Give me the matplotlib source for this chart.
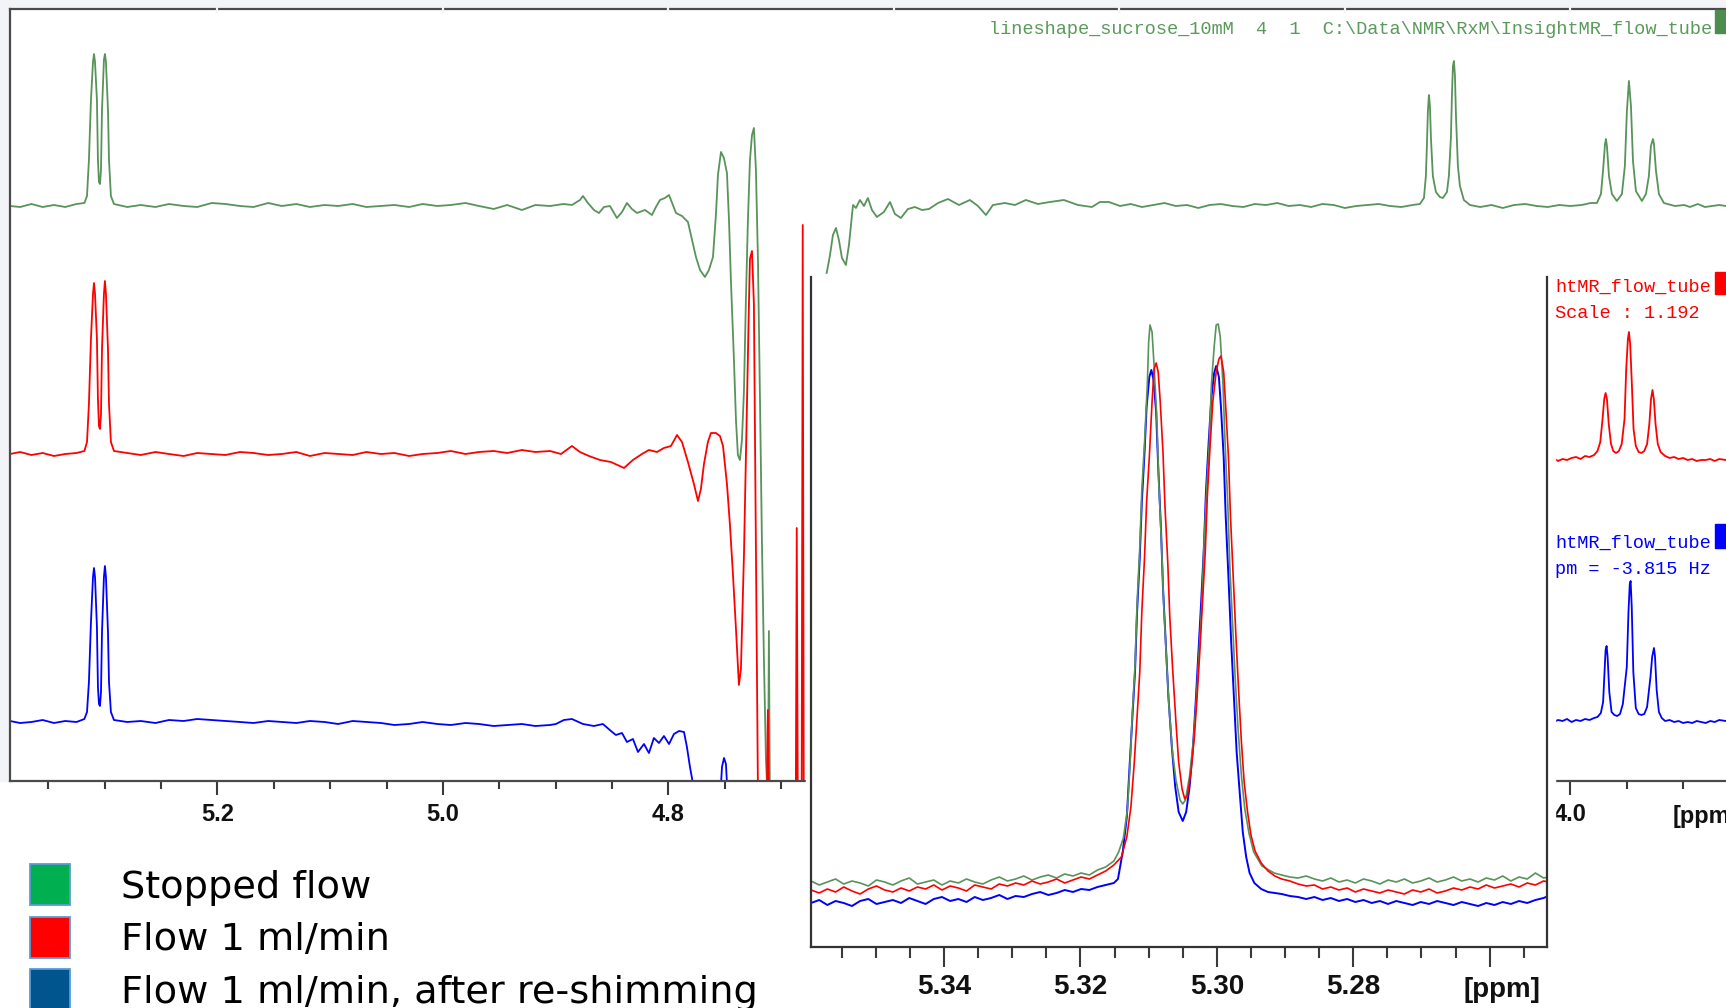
import numpy as np
import matplotlib.pyplot as plt
from matplotlib.patches import Rectangle
from matplotlib.ticker import MultipleLocator

W, H = 1726, 1008

# ---- main spectrum: (ppm, intensity above own baseline) ----
green_main = [
    (5.384, 0), (5.375, -1), (5.365, 2), (5.355, -1), (5.345, 1), (5.335, -1), (5.325, 2), (5.318, 3),
    (5.3157, 10), (5.3140, 46), (5.3122, 106), (5.3104, 144), (5.3095, 152), (5.3086, 144), (5.3069, 106),
    (5.3060, 46), (5.3051, 24), (5.3042, 22), (5.3033, 36), (5.3024, 96), (5.3007, 146), (5.2998, 152),
    (5.2989, 144), (5.2971, 96), (5.2962, 46), (5.2945, 10), (5.2918, 2),
    (5.280, -1), (5.268, 1), (5.255, -1), (5.243, 2), (5.230, 0), (5.218, -1), (5.205, 3), (5.193, 2),
    (5.180, 0), (5.168, -1), (5.155, 3), (5.143, 0), (5.130, 2), (5.118, -1), (5.105, 1), (5.093, 0),
    (5.080, 2), (5.068, -1), (5.055, 0), (5.043, 1), (5.030, -1), (5.018, 2), (5.005, 0), (4.993, 1),
    (4.980, 3), (4.968, 0), (4.955, -3), (4.943, 1), (4.930, -4), (4.918, 1), (4.905, 0), (4.893, 2),
    (4.8856, 1), (4.8785, 6), (4.8758, 10), (4.8714, 3), (4.8661, -4), (4.8616, -7), (4.8572, -1),
    (4.8519, 0), (4.8457, -12), (4.8412, -6), (4.8368, 3), (4.8324, -3), (4.8279, -7), (4.8208, -4),
    (4.8146, -9), (4.8111, -1), (4.8075, 6), (4.8031, 8), (4.7995, 11), (4.7960, 1), (4.7933, -7),
    (4.7880, -10), (4.7827, -16), (4.7791, -34), (4.7756, -51), (4.7720, -64), (4.7676, -71),
    (4.7641, -64), (4.7605, -51), (4.7579, -9), (4.7561, 31), (4.7534, 54), (4.7508, 48), (4.7481, 33),
    (4.7463, -14), (4.7446, -74), (4.7419, -154), (4.7401, -214), (4.7384, -249), (4.7366, -254),
    (4.7348, -234), (4.7330, -184), (4.7313, -94), (4.7295, -14), (4.7277, 46), (4.7259, 71),
    (4.7242, 78), (4.7224, 36), (4.7206, -54), (4.7188, -194), (4.7171, -334), (4.7153, -454),
    (4.7135, -554), (4.7117, -600), (4.7109, -425), (4.7100, -600), (4.6630, -600),
    (4.6603, -71), (4.6567, -49), (4.6541, -29), (4.6514, -22), (4.6488, -34), (4.6461, -52),
    (4.6426, -59), (4.6399, -39), (4.6381, -19), (4.6363, 1), (4.6337, -2), (4.6302, 6), (4.6266, 0),
    (4.6231, 8), (4.6195, -4), (4.6151, -11), (4.6089, -6), (4.6035, 4), (4.5991, -8), (4.5938, -12),
    (4.5876, -3), (4.5814, -1), (4.5751, -4), (4.5689, -3), (4.5609, 3), (4.5521, 7), (4.5423, 1),
    (4.5326, 6), (4.5255, 0), (4.5184, -9), (4.5122, 1), (4.5016, 3), (4.4927, 1), (4.4830, 6),
    (4.4723, 2), (4.4617, 4), (4.4493, 6), (4.4368, 1), (4.4244, -1), (4.4173, 4), (4.4093, 4), (4.3995, 0),
    (4.390, 2), (4.380, -1), (4.370, 1), (4.360, 3), (4.350, 0), (4.340, 1), (4.330, -2), (4.320, 1),
    (4.310, 2), (4.300, 0), (4.290, -1), (4.280, 2), (4.270, 1), (4.260, 3), (4.250, 0), (4.240, 1),
    (4.230, -1), (4.220, 2), (4.210, 1), (4.200, -2), (4.190, 0), (4.180, 1), (4.170, 2), (4.160, 0),
    (4.150, -1), (4.140, 1),
    (4.1335, 2), (4.1299, 8), (4.1282, 30), (4.1273, 60), (4.1264, 95), (4.1255, 111), (4.1246, 100),
    (4.1237, 68), (4.1220, 30), (4.1193, 14), (4.1158, 9), (4.1131, 8), (4.1095, 14), (4.1078, 30),
    (4.1060, 68), (4.1051, 110), (4.1042, 140), (4.1033, 145), (4.1024, 130), (4.1015, 90),
    (4.0998, 40), (4.0980, 20), (4.0945, 6), (4.0891, 1),
    (4.080, -1), (4.070, 1), (4.060, -2), (4.050, 1), (4.040, 2), (4.030, 0), (4.020, -1), (4.010, 1),
    (4.000, 0), (3.990, 1), (3.982, 3),
    (3.9765, 3), (3.9729, 12), (3.9711, 35), (3.9693, 62), (3.9685, 67), (3.9676, 60), (3.9658, 30),
    (3.9632, 12), (3.9588, 5), (3.9543, 12), (3.9517, 40), (3.9499, 95), (3.9481, 125), (3.9463, 100),
    (3.9445, 45), (3.9419, 15), (3.9366, 5), (3.9330, 12), (3.9304, 30), (3.9286, 60), (3.9268, 67),
    (3.9259, 62), (3.9241, 35), (3.9215, 12), (3.9171, 3),
    (3.9073, 0), (3.8990, 1), (3.8940, -1), (3.8870, 2), (3.8807, -1), (3.8740, 0), (3.8680, 1), (3.8621, 0),
]

red_main = [
    (5.384, 0), (5.375, 2), (5.365, -1), (5.355, 1), (5.345, -2), (5.335, 0), (5.325, 1), (5.318, 3),
    (5.3157, 12), (5.3140, 50), (5.3122, 115), (5.3104, 160), (5.3095, 171), (5.3086, 160), (5.3069, 115),
    (5.3060, 55), (5.3051, 28), (5.3042, 25), (5.3033, 40), (5.3024, 105), (5.3007, 160), (5.2998, 173),
    (5.2989, 160), (5.2971, 105), (5.2962, 50), (5.2945, 12), (5.2918, 3),
    (5.280, 1), (5.268, -1), (5.255, 2), (5.243, 0), (5.230, -2), (5.218, 1), (5.205, 0), (5.193, -1),
    (5.180, 2), (5.168, 1), (5.155, -1), (5.143, 0), (5.130, 2), (5.118, -2), (5.105, 1), (5.093, 0),
    (5.080, -1), (5.068, 2), (5.055, 0), (5.043, 1), (5.030, -2), (5.018, 0), (5.005, 1), (4.993, 3),
    (4.980, 0), (4.968, 2), (4.955, 3), (4.943, 1), (4.930, 4), (4.918, 2), (4.905, 3),
    (4.8953, 0), (4.8856, 8), (4.8785, 2), (4.8705, -2), (4.8607, -6), (4.8510, -8), (4.8394, -14),
    (4.8315, -6), (4.8235, 0), (4.8173, 4), (4.8102, 2), (4.8040, 6), (4.7978, 8), (4.7924, 19),
    (4.7880, 12), (4.7827, -8), (4.7774, -30), (4.7738, -47), (4.7712, -35), (4.7685, -10),
    (4.7650, 12), (4.7623, 21), (4.7579, 21), (4.7543, 18), (4.7516, 8), (4.7481, -30), (4.7455, -70),
    (4.7428, -120), (4.7401, -175), (4.7375, -231), (4.7357, -215), (4.7330, -100), (4.7304, 50),
    (4.7286, 150), (4.7277, 195), (4.7259, 203), (4.7242, 150), (4.7224, -100), (4.7206, -340),
    (4.7127, -340), (4.7118, -256), (4.7109, -340), (4.6870, -340), (4.6862, -74), (4.6853, -340),
    (4.6818, -340), (4.6809, 229), (4.6800, -340), (4.6780, -340), (4.6567, -340), (4.6452, 0),
    (4.60, 0), (4.40, 0), (4.20, 0), (4.03, -5),
    (4.0190, -6), (4.0150, -4), (4.0110, -7), (4.0070, -5), (4.0030, -6), (3.9990, -4), (3.9950, -3),
    (3.9910, -5), (3.9870, -2), (3.9830, -3), (3.9790, -1), (3.9760, 3), (3.9735, 12), (3.9715, 35),
    (3.9700, 55), (3.9688, 61), (3.9676, 55), (3.9660, 30), (3.9640, 10), (3.9620, 3), (3.9595, 1),
    (3.9570, 3), (3.9545, 10), (3.9520, 35), (3.9505, 85), (3.9490, 115), (3.9481, 122), (3.9470, 110),
    (3.9455, 70), (3.9440, 25), (3.9420, 8), (3.9395, 2), (3.9370, 1), (3.9345, 3), (3.9320, 10),
    (3.9300, 30), (3.9285, 55), (3.9272, 64), (3.9260, 55), (3.9245, 30), (3.9225, 10), (3.9200, 2),
    (3.9160, -2), (3.9120, -4), (3.9080, -3), (3.9040, -5), (3.9000, -4), (3.8960, -6), (3.8920, -5),
    (3.8880, -7), (3.8840, -6), (3.8800, -6), (3.8760, -5), (3.8720, -7), (3.8680, -5), (3.8621, -6),
]

blue_main = [
    (5.384, 1), (5.375, -1), (5.365, 0), (5.355, 2), (5.345, -1), (5.335, 1), (5.325, 0), (5.318, 3),
    (5.3157, 10), (5.3140, 40), (5.3122, 100), (5.3104, 145), (5.3095, 154), (5.3086, 145), (5.3069, 95),
    (5.3060, 35), (5.3051, 18), (5.3042, 16), (5.3033, 30), (5.3024, 90), (5.3007, 145), (5.2998, 156),
    (5.2989, 145), (5.2971, 90), (5.2962, 40), (5.2945, 10), (5.2918, 2),
    (5.280, 0), (5.268, 1), (5.255, -1), (5.243, 2), (5.230, 1), (5.218, 3), (5.205, 2), (5.193, 1),
    (5.180, 0), (5.168, -1), (5.155, 1), (5.143, 0), (5.130, -1), (5.118, 1), (5.105, 0), (5.093, -2),
    (5.080, 1), (5.068, 0), (5.055, -1), (5.043, -3), (5.030, -2), (5.018, 0), (5.005, -2), (4.993, -3),
    (4.980, -1), (4.968, -2), (4.955, -4), (4.943, -3), (4.930, -2), (4.918, -4), (4.905, -3),
    (4.8998, -2), (4.8927, 2), (4.8856, 3), (4.8758, -2), (4.8661, -4), (4.8581, -2), (4.8510, -9),
    (4.8466, -13), (4.8412, -11), (4.8368, -20), (4.8315, -17), (4.8270, -30), (4.8217, -22),
    (4.8173, -31), (4.8129, -16), (4.8084, -21), (4.8040, -14), (4.7995, -22), (4.7951, -12),
    (4.7906, -9), (4.7862, -10), (4.7836, -25), (4.7809, -45), (4.7782, -62), (4.7720, -80),
    (4.7543, -80), (4.7525, -45), (4.7507, -36), (4.7490, -42), (4.7472, -80), (4.6567, -80),
    (4.6452, 0), (4.60, 0), (4.40, 0), (4.20, 0), (4.03, 1),
    (4.0190, 2), (4.0150, 0), (4.0110, 2), (4.0070, 1), (4.0030, 3), (3.9990, 0), (3.9950, 2),
    (3.9910, 1), (3.9870, 3), (3.9830, 2), (3.9790, 4), (3.9760, 5), (3.9730, 9), (3.9710, 20),
    (3.9697, 50), (3.9688, 72), (3.9679, 76), (3.9670, 65), (3.9655, 30), (3.9635, 10), (3.9610, 7),
    (3.9585, 6), (3.9560, 8), (3.9535, 18), (3.9500, 55), (3.9485, 110), (3.9474, 137), (3.9466, 141),
    (3.9456, 115), (3.9442, 50), (3.9420, 14), (3.9395, 8), (3.9370, 7), (3.9345, 8), (3.9320, 15),
    (3.9290, 45), (3.9275, 65), (3.9259, 74), (3.9250, 66), (3.9235, 32), (3.9215, 10), (3.9190, 4),
    (3.9160, 1), (3.9120, 2), (3.9080, 0), (3.9040, 1), (3.9000, -1), (3.8960, 0), (3.8920, -1),
    (3.8880, 1), (3.8840, 0), (3.8800, -1), (3.8760, 1), (3.8720, 0), (3.8680, 2), (3.8621, 1),
]

# ---- inset (zoom on the 5.30 ppm doublet): (ppm, intensity) ----
inset_left_ppm = [5.3595, 5.3583, 5.3571, 5.3559, 5.3547, 5.3535, 5.3523, 5.3511, 5.3499, 5.3487,
                  5.3475, 5.3463, 5.3451, 5.3439, 5.3427, 5.3415, 5.3403, 5.3391, 5.3379, 5.3367,
                  5.3355, 5.3343, 5.3331, 5.3319, 5.3307, 5.3295, 5.3283, 5.3271, 5.3259, 5.3247,
                  5.3235, 5.3223, 5.3211, 5.3199, 5.3187, 5.3175, 5.3163, 5.3151]
inset_right_ppm = [5.2905, 5.2893, 5.2881, 5.2869, 5.2857, 5.2845, 5.2833, 5.2821, 5.2809, 5.2797,
                   5.2785, 5.2773, 5.2761, 5.2749, 5.2737, 5.2725, 5.2713, 5.2701, 5.2689, 5.2677,
                   5.2665, 5.2653, 5.2641, 5.2629, 5.2617, 5.2605, 5.2593, 5.2581, 5.2569, 5.2557,
                   5.2545, 5.2533, 5.2521, 5.2514]

green_left = [66, 62, 65, 68, 63, 66, 64, 61, 67, 65, 62, 66, 69, 63, 65, 67, 62, 66, 64, 68,
              65, 63, 67, 70, 66, 68, 71, 67, 70, 72, 69, 73, 71, 74, 72, 77, 80, 86]
red_left = [57, 54, 58, 55, 60, 56, 53, 58, 61, 57, 55, 59, 56, 60, 58, 62, 57, 61, 59, 56,
            62, 60, 58, 63, 61, 64, 62, 66, 63, 65, 68, 64, 67, 70, 68, 72, 76, 82]
blue_left = [44, 47, 42, 46, 44, 41, 46, 48, 43, 45, 47, 44, 49, 46, 43, 48, 50, 46, 48, 45,
             50, 47, 49, 52, 48, 51, 50, 53, 55, 52, 54, 57, 55, 58, 57, 60, 62, 64]

green_right = [72, 70, 69, 71, 68, 66, 69, 65, 67, 64, 68, 66, 63, 67, 65, 68, 64, 66, 69, 65,
               67, 70, 66, 68, 65, 69, 67, 71, 66, 70, 68, 74, 69, 70]
red_right = [68, 66, 63, 61, 62, 58, 60, 57, 59, 55, 58, 56, 54, 57, 55, 53, 57, 55, 58, 54,
             56, 59, 57, 60, 58, 62, 59, 61, 63, 60, 64, 62, 66, 65]
blue_right = [53, 51, 50, 48, 50, 47, 49, 46, 48, 45, 47, 44, 46, 43, 46, 44, 42, 45, 43, 46,
              44, 42, 45, 43, 41, 44, 42, 45, 43, 46, 44, 47, 49, 51]

green_peak = [
    (5.3144, 95), (5.3137, 109), (5.3131, 138), (5.3127, 186), (5.3124, 233), (5.3120, 281),
    (5.3117, 343), (5.3113, 400), (5.3110, 457), (5.3106, 505), (5.3102, 562), (5.3100, 605),
    (5.3098, 622), (5.3095, 615), (5.3092, 581), (5.3088, 529), (5.3085, 462), (5.3081, 400),
    (5.3078, 343), (5.3074, 290), (5.3070, 238), (5.3065, 195), (5.3060, 167), (5.3054, 147),
    (5.3050, 143), (5.3046, 147), (5.3040, 171), (5.3034, 209), (5.3030, 248), (5.3026, 295),
    (5.3022, 343), (5.3019, 400), (5.3015, 457), (5.3011, 505), (5.3008, 562), (5.3004, 600),
    (5.3001, 622), (5.2998, 623), (5.2995, 610), (5.2991, 562), (5.2988, 505), (5.2984, 443),
    (5.2981, 381), (5.2977, 324), (5.2973, 267), (5.2969, 219), (5.2964, 171), (5.2959, 138),
    (5.2953, 114), (5.2946, 95), (5.2934, 81), (5.2916, 74),
]
red_peak = [
    (5.3140, 90), (5.3132, 110), (5.3126, 140), (5.3121, 185), (5.3117, 230), (5.3113, 275),
    (5.3110, 335), (5.3106, 390), (5.3103, 445), (5.3099, 490), (5.3095, 545), (5.3092, 578),
    (5.3089, 584), (5.3086, 575), (5.3083, 545), (5.3079, 495), (5.3076, 440), (5.3072, 385),
    (5.3069, 330), (5.3065, 280), (5.3060, 225), (5.3056, 185), (5.3051, 158), (5.3047, 148),
    (5.3043, 152), (5.3038, 175), (5.3033, 210), (5.3029, 250), (5.3025, 295), (5.3021, 345),
    (5.3017, 395), (5.3014, 450), (5.3010, 500), (5.3006, 545), (5.3001, 575), (5.2997, 588),
    (5.2994, 591), (5.2990, 575), (5.2987, 540), (5.2983, 490), (5.2980, 430), (5.2976, 370),
    (5.2972, 310), (5.2968, 255), (5.2964, 205), (5.2960, 165), (5.2955, 135), (5.2950, 112),
    (5.2944, 96), (5.2935, 84), (5.2925, 76), (5.2915, 71),
]
blue_peak = [
    (5.3145, 68), (5.3138, 95), (5.3132, 130), (5.3128, 180), (5.3124, 228), (5.3120, 275),
    (5.3117, 335), (5.3113, 390), (5.3110, 445), (5.3106, 495), (5.3103, 540), (5.3099, 570),
    (5.3096, 577), (5.3093, 568), (5.3089, 535), (5.3086, 480), (5.3082, 420), (5.3079, 360),
    (5.3075, 305), (5.3071, 250), (5.3066, 200), (5.3061, 160), (5.3056, 135), (5.3050, 126),
    (5.3045, 135), (5.3040, 160), (5.3035, 200), (5.3031, 245), (5.3027, 295), (5.3023, 345),
    (5.3019, 400), (5.3016, 455), (5.3012, 505), (5.3008, 550), (5.3004, 574), (5.3001, 581),
    (5.2997, 570), (5.2994, 540), (5.2990, 490), (5.2987, 430), (5.2983, 370), (5.2979, 305),
    (5.2975, 250), (5.2971, 195), (5.2966, 150), (5.2962, 115), (5.2957, 90), (5.2952, 74),
    (5.2945, 64), (5.2935, 58), (5.2925, 55),
]

main_ticks = [5.2, 5.0, 4.8, 4.6, 4.4, 4.2, 4.0]
main_labels = ['5.2', '5.0', '4.8', '4.6', '4.4', '4.2', '4.0']
inset_ticks = [5.34, 5.32, 5.30, 5.28, 5.26]
inset_labels = ['5.34', '5.32', '5.30', '5.28', '']

legend_names = ['Stopped flow', 'Flow 1 ml/min', 'Flow 1 ml/min, after re-shimming']
legend_colors = ['#00b050', '#ff0000', '#00558f']

GREEN = '#58935a'
RED = '#ff0000'
BLUE = '#0000ff'
DARK = '#3a3a3a'


def box(x0, y0, x1, y1):
    # pixel box (origin top-left) -> figure fraction
    return [x0 / W, 1 - y1 / H, (x1 - x0) / W, (y1 - y0) / H]


def fx(x):
    return x / W


def fy(y):
    return 1 - y / H


fig = plt.figure(figsize=(W / 100, H / 100), dpi=100)

# light strip of the viewer frame
fig.add_artist(Rectangle((0, fy(8)), 1, 8 / H, transform=fig.transFigure,
                         color='#f2f4f7', zorder=-1))
fig.add_artist(Rectangle((0, fy(781)), fx(8), 773 / H, transform=fig.transFigure,
                         color='#f2f4f7', zorder=-1))

# ---- main stacked spectrum ----
ax = fig.add_axes(box(10, 9, 1726, 781))
ax.set_zorder(0)
for data, off, col in [(green_main, 575, GREEN), (red_main, 327, RED), (blue_main, 59, BLUE)]:
    x, y = np.array(data).T
    ax.plot(x, y + off, color=col, lw=1.3)
ax.set_xlim(5.384, 3.862)
ax.set_ylim(0, 772)
ax.set_yticks([])
ax.set_xticks(main_ticks)
ax.set_xticklabels(main_labels, fontfamily='Liberation Sans', fontweight='bold')
ax.xaxis.set_minor_locator(MultipleLocator(0.05))
ax.tick_params(axis='x', which='major', direction='out', length=10, width=1.5, pad=5.5,
               labelsize=17, color=DARK, labelcolor='#111111')
ax.tick_params(axis='x', which='minor', direction='out', length=6, width=1.5, color=DARK)
ax.spines['right'].set_visible(False)
for s in ['left', 'top', 'bottom']:
    ax.spines[s].set_linewidth(1.6)
    ax.spines[s].set_color('#4a4a4a')
# light notches in the top ruler at the major ticks
for v in main_ticks:
    ax.plot([v, v], [769.5, 774.5], color='#f2f4f7', lw=1.6, clip_on=False, zorder=4)

# white panel behind the inset
fig.add_artist(Rectangle((fx(806), 0), (1555 - 806) / W, (1008 - 274) / H,
                         transform=fig.transFigure, color='white', zorder=1))

# ---- inset ----
ax2 = fig.add_axes(box(811, 277, 1547, 947))
ax2.set_zorder(2)
for left, peak, right, col, lw in [(blue_left, blue_peak, blue_right, BLUE, 1.4),
                                   (green_left, green_peak, green_right, GREEN, 1.2),
                                   (red_left, red_peak, red_right, RED, 1.2)]:
    px, py = np.array(peak).T
    x = np.concatenate([inset_left_ppm, px, inset_right_ppm])
    y = np.concatenate([left, py, right])
    ax2.plot(x, y, color=col, lw=lw)
ax2.set_xlim(5.3595, 5.2516)
ax2.set_ylim(0, 670)
ax2.set_yticks([])
ax2.set_xticks(inset_ticks)
ax2.set_xticklabels(inset_labels, fontfamily='Liberation Sans', fontweight='bold')
ax2.xaxis.set_minor_locator(MultipleLocator(0.005))
ax2.tick_params(axis='x', which='major', direction='out', length=14.5, width=1.5, pad=5,
                labelsize=20, color=DARK, labelcolor='#111111')
ax2.tick_params(axis='x', which='minor', direction='out', length=8, width=1.5, color=DARK)
ax2.spines['top'].set_visible(False)
for s in ['left', 'right', 'bottom']:
    ax2.spines[s].set_linewidth(1.6)
    ax2.spines[s].set_color('#333333')

fig.text(fx(1502), fy(990), '[ppm]', ha='center', va='center', fontsize=20,
         fontfamily='Liberation Sans', fontweight='bold', color='#111111')
# the main axis unit label runs off the right edge, as in the viewer screenshot
fig.text(fx(1673), fy(816), '[ppm]', ha='left', va='center', fontsize=17,
         fontfamily='Liberation Sans', fontweight='bold', color='#111111')

# ---- spectrum titles (viewer annotations) ----
mono = dict(fontfamily='Liberation Mono', fontsize=13.4, va='center')
fig.text(fx(1712), fy(30), 'lineshape_sucrose_10mM  4  1  C:\\Data\\NMR\\RxM\\InsightMR_flow_tube',
         ha='right', color='#5a9a5a', **mono)
fig.text(fx(1555), fy(287), 'htMR_flow_tube', ha='left', color=RED, **mono)
fig.text(fx(1555), fy(314), 'Scale : 1.192', ha='left', color=RED, **mono)
fig.text(fx(1555), fy(543), 'htMR_flow_tube', ha='left', color=BLUE, **mono)
fig.text(fx(1555), fy(570), 'pm = -3.815 Hz', ha='left', color=BLUE, **mono)
for y0, y1, col in [(10, 33, '#4c8c4c'), (272, 294, RED), (524, 548, BLUE)]:
    fig.add_artist(Rectangle((fx(1715), fy(y1)), 11 / W, (y1 - y0) / H,
                             transform=fig.transFigure, color=col, zorder=4))

# ---- legend ----
for i, (name, col) in enumerate(zip(legend_names, legend_colors)):
    top = 864 + i * 52.5
    fig.add_artist(Rectangle((fx(30), fy(top + 41)), 40 / W, 41 / H, transform=fig.transFigure,
                             facecolor=col, edgecolor='#5b9bd5', lw=1.3, zorder=4))
    fig.text(fx(121), fy(top + 34), name, ha='left', va='baseline', fontsize=27.5,
             fontfamily='DejaVu Sans', color='black')

fig.savefig('out.png', dpi=100)
